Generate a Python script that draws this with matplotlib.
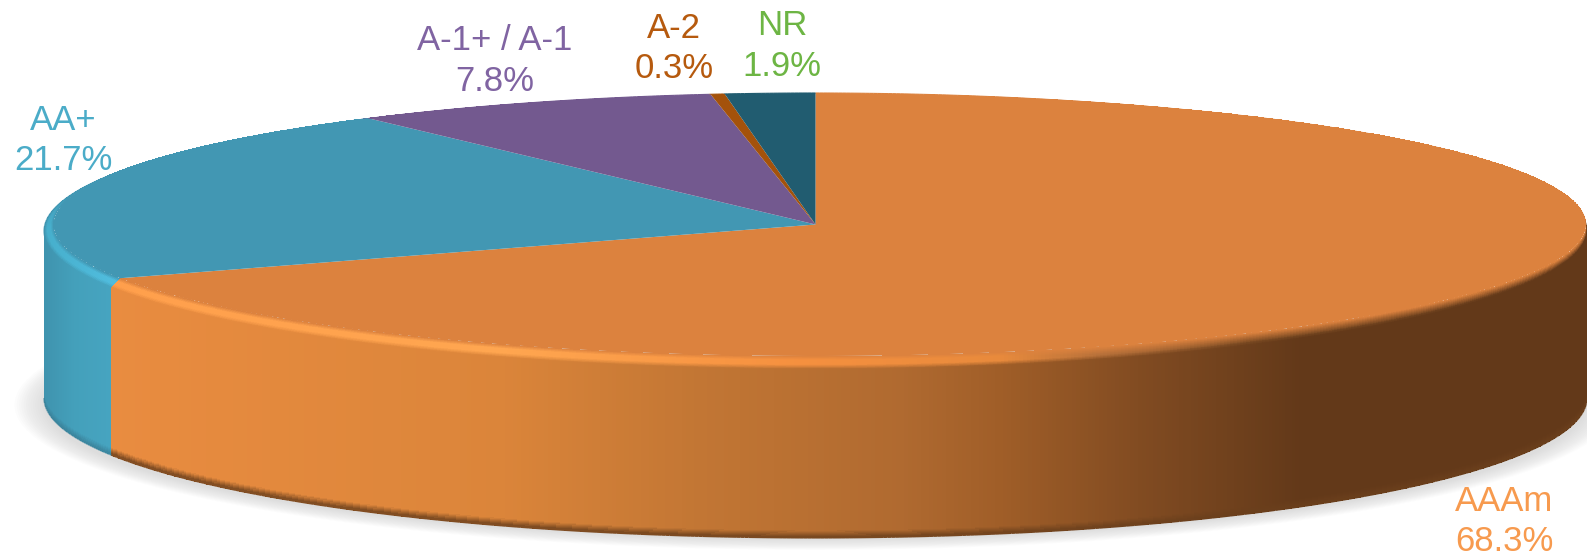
import numpy as np
import matplotlib
matplotlib.use('Agg')
import matplotlib.pyplot as plt
from matplotlib.collections import LineCollection
from matplotlib.colors import to_rgb
from matplotlib.patches import Ellipse, Polygon

plt.rcParams['font.family'] = ['Liberation Sans', 'DejaVu Sans']

labels = ['AAAm', 'AA+', 'A-1+ / A-1', 'A-2', 'NR']
values = [68.3, 21.7, 7.8, 0.3, 1.9]

top_colors = ['#DC823E', '#4297B3', '#73598F', '#A4520B', '#215C70']
text_colors = ['#F79A4E', '#4BACC8', '#8064A2', '#B65A0E', '#6DB544']

# label placement: centre x, first and second baseline
label_x = [1504, 63, 495, 674, 782]
label_y1 = [511, 130, 50, 38, 35]
label_y2 = [551, 170, 91, 78, 76]

# disc geometry in pixels: cx, cy, half width left, half width right, half height
top_c = (815.5, 224.5, 762.0, 770.5, 131.5)
rim_c = (815.5, 231.0, 771.5, 771.5, 138.0)
base_c = (815.5, 398.0, 771.5, 771.5, 140.0)


def ramp(x, stops):
    xs = [s[0] for s in stops]
    cols = np.array([to_rgb(s[1]) for s in stops])
    return np.stack([np.interp(x, xs, cols[:, i]) for i in range(3)], axis=-1)


side_stops = {
    0: [(108, '#E98C40'), (500, '#DB853A'), (700, '#C27634'), (900, '#B06A30'),
        (1000, '#A05E28'), (1150, '#7F4A21'), (1300, '#633919'), (1587, '#633919')],
    1: [(44, '#3F93AE'), (75, '#44A0BB'), (110, '#46A4C0')],
}
glow_stops = {
    0: [(108, '#FF9F4C'), (500, '#FFA650'), (800, '#F5903F'), (1000, '#E88A3C'),
        (1100, '#B8713A'), (1250, '#7A4A22'), (1587, '#663B1B')],
    1: [(44, '#46AECB'), (110, '#50BCDD')],
}


def point(theta, c):
    s = np.sin(theta)
    return c[0] + np.where(s < 0, c[2], c[3]) * s, c[1] - c[4] * np.cos(theta)


def mix(a, b, w):
    return a * (1 - w[..., None]) + b * w[..., None]


fig = plt.figure(figsize=(15.87, 5.56), dpi=100)
ax = fig.add_axes([0, 0, 1, 1])
ax.set_xlim(0, 1587)
ax.set_ylim(556, 0)
ax.axis('off')

# soft shadow under the disc
for s in np.linspace(1, 0, 14):
    ax.add_patch(Ellipse((815.5, 405), 2 * (771 + 30 * s), 2 * (134 + 11 * s),
                         fc='#707070', ec='none', alpha=0.014, zorder=1))

edges = np.cumsum([0] + values) / 100 * 2 * np.pi

for i in range(len(values)):
    t0, t1 = edges[i], edges[i + 1]
    top = np.array(to_rgb(top_colors[i]))

    # outer wall, front half only
    a, b = max(t0, np.pi / 2), min(t1, 3 * np.pi / 2)
    if b > a:
        th = np.linspace(a, b, 500)
        v = np.linspace(0, 1, 160)
        tt, vv = np.meshgrid(th, v)
        cy = rim_c[1] + (base_c[1] - rim_c[1]) * vv
        by = rim_c[4] + (base_c[4] - rim_c[4]) * vv
        X = rim_c[0] + rim_c[2] * np.sin(tt)
        Y = cy - by * np.cos(tt)
        xm = 0.5 * (X[:-1, :-1] + X[:-1, 1:])
        vm = 0.5 * (vv[:-1, :-1] + vv[1:, :-1])
        col = ramp(xm, side_stops[i])
        dark = np.clip((vm - 0.955) / 0.035, 0, 1) * 0.8
        col = mix(col, np.array(to_rgb('#6A3F1C')) if i == 0 else np.array(to_rgb('#3A8199')), dark)
        ax.pcolormesh(X, Y, col, shading='flat', zorder=2, rasterized=True)

        # smooth the lower silhouette
        bx, by2 = point(th, base_c)
        pts = np.column_stack([bx, by2])
        segs = np.stack([pts[:-1], pts[1:]], axis=1)
        ax.add_collection(LineCollection(segs, colors=col[-1, :], linewidths=0.8, zorder=2))

    # rounded rim between the wall and the flat top
    th = np.linspace(t0, t1, max(int((t1 - t0) * 200), 6))
    u = np.linspace(0, 1, 44)
    tt, uu = np.meshgrid(th, u)
    s = np.sin(tt)
    half = np.where(s < 0, rim_c[2] + (top_c[2] - rim_c[2]) * uu, rim_c[3] + (top_c[3] - rim_c[3]) * uu)
    cy = rim_c[1] + (top_c[1] - rim_c[1]) * uu
    rb = rim_c[4] + (top_c[4] - rim_c[4]) * uu
    X = rim_c[0] + half * s
    Y = cy - rb * np.cos(tt)
    tm = 0.5 * (tt[:-1, :-1] + tt[:-1, 1:])
    um = 0.5 * (uu[:-1, :-1] + uu[1:, :-1])
    xm = 0.5 * (X[:-1, :-1] + X[:-1, 1:])
    if i in side_stops:
        wall = ramp(xm, side_stops[i])
        glow = ramp(xm, glow_stops[i])
        col = mix(wall, glow, np.clip(um / 0.35, 0, 1))
        # the fade into the top is longer where the wall is in shade
        start = np.interp(xm, [1000, 1150], [0.7, 0.25])
        col = mix(col, top * np.ones_like(col), np.clip((um - start) / (1 - start), 0, 1))
    else:
        col = top * np.ones(um.shape + (3,))
    # the rim flattens out towards the back of the disc
    back = np.clip(np.cos(tm) / 0.25, 0, 1)
    col = mix(col, top * np.ones_like(col), back)
    ax.pcolormesh(X, Y, col, shading='flat', zorder=3, rasterized=True)

    # outline of the rim, per slice
    ex, ey = point(th, rim_c)
    pts = np.column_stack([ex, ey])
    segs = np.stack([pts[:-1], pts[1:]], axis=1)
    ax.add_collection(LineCollection(segs, colors=col[0, :], linewidths=0.8, zorder=3))

# flat top wedges
for i in range(len(values)):
    th = np.linspace(edges[i], edges[i + 1], max(int((edges[i + 1] - edges[i]) * 200), 6))
    px, py = point(th, top_c)
    verts = np.column_stack([np.r_[top_c[0], px], np.r_[top_c[1], py]])
    ax.add_patch(Polygon(verts, closed=True, fc=top_colors[i], ec='none', zorder=4))

for i in range(len(labels)):
    ax.text(label_x[i], label_y1[i], labels[i], color=text_colors[i], fontsize=25,
            ha='center', va='baseline', zorder=6)
    ax.text(label_x[i], label_y2[i], f'{values[i]:.1f}%', color=text_colors[i], fontsize=25,
            ha='center', va='baseline', zorder=6)

fig.savefig('out.png', dpi=100, facecolor='white')
